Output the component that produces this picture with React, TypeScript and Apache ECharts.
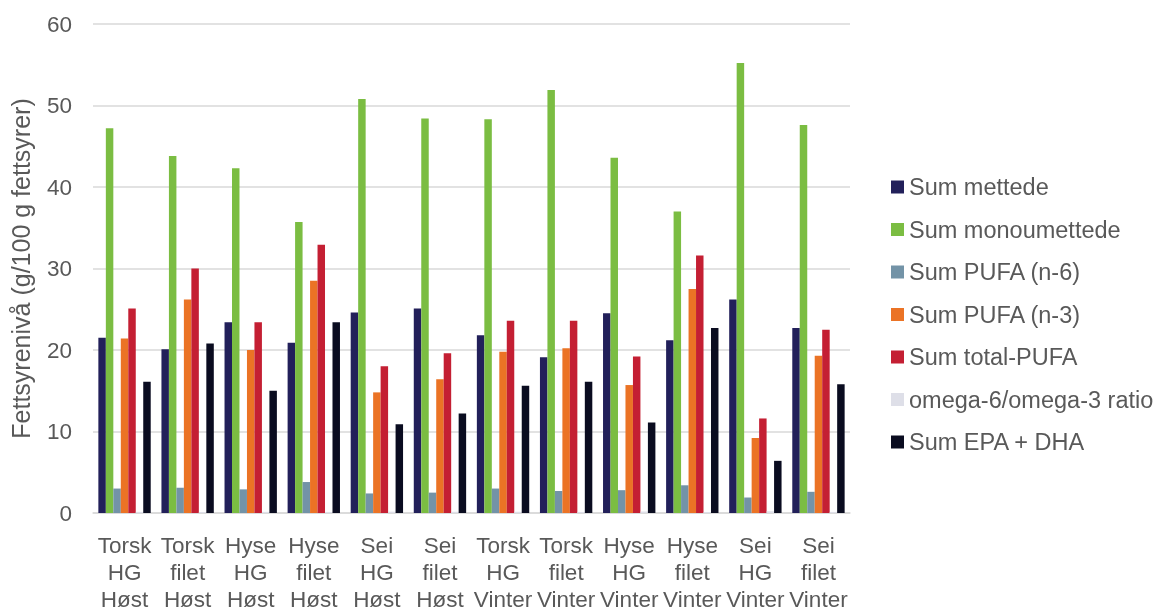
import React, { useEffect, useRef } from "react";
import * as echarts from "echarts";

const categories = [
  "Torsk\nHG\nHøst", "Torsk\nfilet\nHøst", "Hyse\nHG\nHøst", "Hyse\nfilet\nHøst",
  "Sei\nHG\nHøst", "Sei\nfilet\nHøst", "Torsk\nHG\nVinter", "Torsk\nfilet\nVinter",
  "Hyse\nHG\nVinter", "Hyse\nfilet\nVinter", "Sei\nHG\nVinter", "Sei\nfilet\nVinter",
];

const sumMettede = [21.5, 20.1, 23.4, 20.9, 24.6, 25.1, 21.8, 19.1, 24.5, 21.2, 26.2, 22.7];
const sumMonoumettede = [47.2, 43.8, 42.3, 35.7, 50.8, 48.4, 48.3, 51.9, 43.6, 37.0, 55.2, 47.6];
const sumPufaN6 = [3.0, 3.1, 2.9, 3.8, 2.4, 2.5, 3.0, 2.7, 2.8, 3.4, 1.9, 2.6];
const sumPufaN3 = [21.4, 26.2, 20.0, 28.5, 14.8, 16.4, 19.8, 20.2, 15.7, 27.5, 9.2, 19.3];
const sumTotalPufa = [25.1, 30.0, 23.4, 32.9, 18.0, 19.6, 23.6, 23.6, 19.2, 31.6, 11.6, 22.5];
const omegaRatio = [0.14, 0.12, 0.14, 0.13, 0.16, 0.15, 0.15, 0.13, 0.18, 0.12, 0.21, 0.13];
const sumEpaDha = [16.1, 20.8, 15.0, 23.4, 10.9, 12.2, 15.6, 16.1, 11.1, 22.7, 6.4, 15.8];

const seriesDefs = [
  { name: "Sum mettede", data: sumMettede, color: "#22205A" },
  { name: "Sum monoumettede", data: sumMonoumettede, color: "#7BBD42" },
  { name: "Sum PUFA (n-6)", data: sumPufaN6, color: "#7393A7" },
  { name: "Sum PUFA (n-3)", data: sumPufaN3, color: "#EB7325" },
  { name: "Sum total-PUFA", data: sumTotalPufa, color: "#C41F33" },
  { name: "omega-6/omega-3 ratio", data: omegaRatio, color: "#DEDFE8" },
  { name: "Sum EPA + DHA", data: sumEpaDha, color: "#0A0C20" },
];

const FONT = "'Liberation Sans', Arial, sans-serif";
const GRAY = "#595959";

export default function App() {
  const ref = useRef<HTMLDivElement>(null);
  useEffect(() => {
    if (!ref.current) return;
    const chart = echarts.init(ref.current, undefined, { renderer: "svg" });
    chart.setOption({
      animation: false,
      textStyle: { fontFamily: FONT },
      grid: { left: 92, right: 311, top: 24, bottom: 95, containLabel: false },
      legend: {
        orient: "vertical",
        left: 886,
        top: 170,
        icon: "rect",
        itemWidth: 13,
        itemHeight: 13,
        itemGap: 18.5,
        textStyle: { color: GRAY, fontSize: 23.5, fontFamily: FONT, lineHeight: 24 },
        data: seriesDefs.map((s) => s.name),
      },
      xAxis: {
        type: "category",
        data: categories,
        axisLine: { lineStyle: { color: "#D9D9D9", width: 1.5 } },
        axisTick: { show: false },
        axisLabel: {
          color: GRAY,
          fontSize: 22.5,
          fontFamily: FONT,
          lineHeight: 27,
          margin: 19,
          interval: 0,
        },
      },
      yAxis: {
        type: "value",
        min: 0,
        max: 60,
        interval: 10,
        name: "Fettsyrenivå (g/100 g fettsyrer)",
        nameLocation: "middle",
        nameGap: 60,
        nameTextStyle: { color: GRAY, fontSize: 25, fontFamily: FONT },
        axisLine: { show: false },
        axisTick: { show: false },
        axisLabel: { color: GRAY, fontSize: 22.5, fontFamily: FONT, margin: 21 },
        splitLine: { lineStyle: { color: "#D9D9D9", width: 1.5 } },
      },
      series: seriesDefs.map((s) => ({
        name: s.name,
        type: "bar",
        data: s.data,
        barGap: "0%",
        barCategoryGap: "17%",
        itemStyle: { color: s.color },
      })),
    });
    return () => chart.dispose();
  }, []);
  return (
    <div
      ref={ref}
      style={{ position: "fixed", left: 0, top: 0, width: 1161, height: 613, overflow: "hidden" }}
    />
  );
}
